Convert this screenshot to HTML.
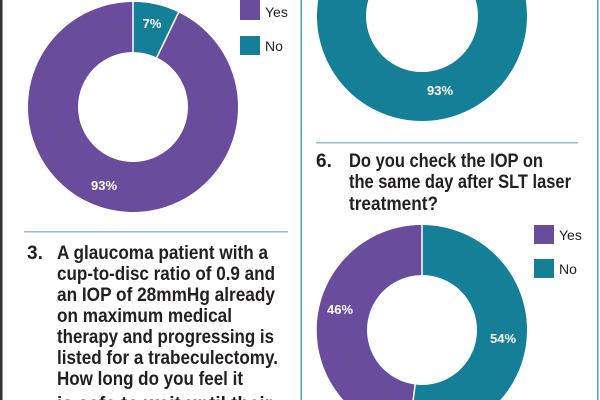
<!DOCTYPE html>
<html><head><style>html,body{margin:0;background:#fff;width:600px;height:400px;overflow:hidden}svg{display:block}</style></head><body>
<svg width="600" height="400" viewBox="0 0 600 400" xmlns="http://www.w3.org/2000/svg" font-family="Liberation Sans, sans-serif" overflow="hidden">
<rect width="600" height="400" fill="#fff"/>
<rect x="0" y="0" width="2.5" height="400" fill="#333"/>
<rect x="300.5" y="0" width="1.5" height="400" fill="#4aa3b8"/>
<rect x="597" y="0" width="1.5" height="400" fill="#4aa3b8"/>
<g transform="translate(133,107)">
<circle r="80" fill="none" stroke="#6a4c9c" stroke-width="50"/>
<path d="M0,-105 A105,105 0 0 1 45.6,-94.6 L23.9,-49.6 A55,55 0 0 0 0,-55 Z" fill="#167f98"/>
<line x1="0" y1="-106" x2="0" y2="-54" stroke="#fff" stroke-width="1.5"/>
<line x1="46" y1="-95.5" x2="23.5" y2="-49" stroke="#fff" stroke-width="1.5"/>
</g>
<text x="152" y="28" fill="#fff" font-weight="bold" font-size="13" text-anchor="middle">7%</text>
<text x="104" y="190" fill="#fff" font-weight="bold" font-size="13" text-anchor="middle">93%</text>
<rect x="240" y="0" width="20" height="20" fill="#6a4c9c"/>
<text x="265" y="17" font-size="14" fill="#222">Yes</text>
<rect x="240" y="36" width="20" height="19" fill="#167f98"/>
<text x="265" y="51" font-size="14" fill="#222">No</text>
<rect x="24" y="231" width="264" height="1.5" fill="#8fbfd0"/>
<g font-weight="bold" font-size="19" fill="#231f20">
<text x="27" y="259">3.</text>
<text x="57" y="259" textLength="211" lengthAdjust="spacingAndGlyphs">A glaucoma patient with a</text>
<text x="57" y="280" textLength="218" lengthAdjust="spacingAndGlyphs">cup-to-disc ratio of 0.9 and</text>
<text x="57" y="301" textLength="218" lengthAdjust="spacingAndGlyphs">an IOP of 28mmHg already</text>
<text x="57" y="322" textLength="175" lengthAdjust="spacingAndGlyphs">on maximum medical</text>
<text x="57" y="343" textLength="217" lengthAdjust="spacingAndGlyphs">therapy and progressing is</text>
<text x="57" y="364" textLength="221" lengthAdjust="spacingAndGlyphs">listed for a trabeculectomy.</text>
<text x="57" y="385" textLength="186" lengthAdjust="spacingAndGlyphs">How long do you feel it</text>
<text x="57" y="410" textLength="215" lengthAdjust="spacingAndGlyphs">is safe to wait until their</text>
</g>
<circle cx="422" cy="16" r="80.5" fill="none" stroke="#167f98" stroke-width="49"/>
<text x="440" y="95" fill="#fff" font-weight="bold" font-size="13" text-anchor="middle">93%</text>
<rect x="316" y="142" width="262" height="1.5" fill="#8fbfd0"/>
<g font-weight="bold" font-size="19" fill="#231f20">
<text x="316" y="167">6.</text>
<text x="349" y="167" textLength="194" lengthAdjust="spacingAndGlyphs">Do you check the IOP on</text>
<text x="349" y="188" textLength="222" lengthAdjust="spacingAndGlyphs">the same day after SLT laser</text>
<text x="349" y="210" textLength="89" lengthAdjust="spacingAndGlyphs">treatment?</text>
</g>
<g transform="translate(422,330)">
<circle r="80" fill="none" stroke="#167f98" stroke-width="50"/>
<path d="M0,-105 A105,105 0 0 0 -13.2,104.2 L-6.9,54.6 A55,55 0 0 1 0,-55 Z" fill="#6a4c9c"/>
<line x1="0" y1="-106" x2="0" y2="-54" stroke="#fff" stroke-width="1.5"/>
<line x1="-13.3" y1="105" x2="-6.8" y2="54" stroke="#fff" stroke-width="1.5"/>
</g>
<text x="340" y="314" fill="#fff" font-weight="bold" font-size="13" text-anchor="middle">46%</text>
<text x="503" y="343" fill="#fff" font-weight="bold" font-size="13" text-anchor="middle">54%</text>
<rect x="534" y="225" width="20" height="19" fill="#6a4c9c"/>
<text x="559" y="240" font-size="14" fill="#222">Yes</text>
<rect x="534" y="259" width="20" height="19" fill="#167f98"/>
<text x="559" y="274" font-size="14" fill="#222">No</text>
</svg>
</body></html>
